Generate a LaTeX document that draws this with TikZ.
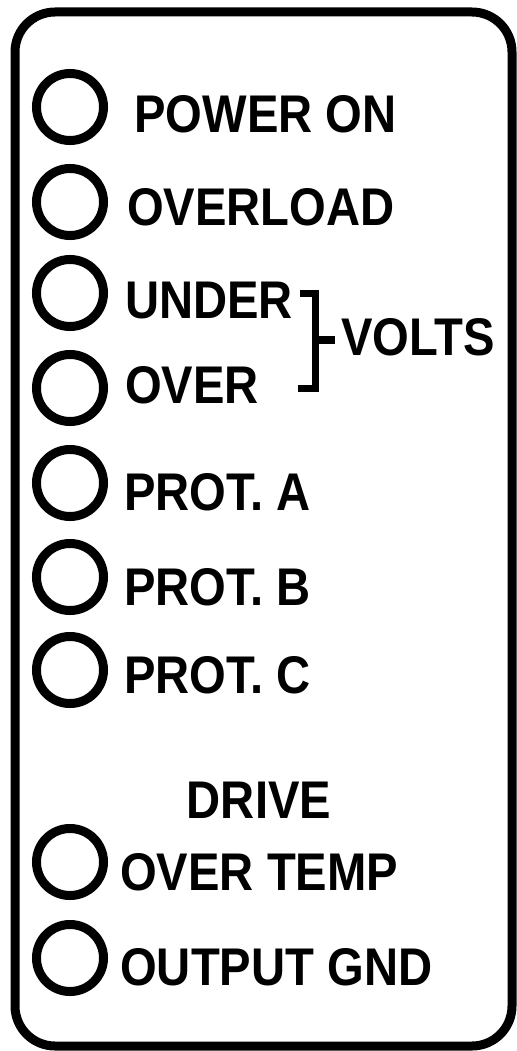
\documentclass[tikz,border=0pt]{standalone}
\usepackage{fontspec}
\newfontfamily\panelfont[FakeStretch=0.89]{Liberation Sans}
\usepackage{tikz}

\tikzset{
  lamp/.style={draw, circle, line width=6.4pt, minimum size=1.675cm, inner sep=0pt},
  legend/.style={anchor=base west, inner sep=0pt, font=\panelfont\bfseries\fontsize{37.7}{40}\selectfont}
}

\begin{document}
\begin{tikzpicture}[x=0.025cm, y=-0.025cm]
    \useasboundingbox (0,0) rectangle (516,1051);

    % Front panel
    \draw[line width=6.4pt, rounded corners=1cm] (15,12) rectangle (512,1046);

    % Lamps
    \node[lamp] (lpower) at (70,107) {};
    \node[lamp] (lload) at (70,202) {};
    \node[lamp] (lunder) at (70,293) {};
    \node[lamp] (lover) at (70,388) {};
    \node[lamp] (lprota) at (70,483) {};
    \node[lamp] (lprotb) at (70,577) {};
    \node[lamp] (lprotc) at (70,670) {};
    \node[lamp] (ltemp) at (70,862) {};
    \node[lamp] (lgnd) at (70,958) {};

    % Labels
    \node[legend] (tpower) at (134,133) {POWER ON};
    \node[legend] (tload) at (127,225) {OVERLOAD};
    \node[legend] (tunder) at (125,318) {UNDER};
    \node[legend] (tover) at (125,403) {OVER};
    \node[legend] (tvolts) at (341,355) {VOLTS};
    \node[legend] (tprota) at (124,510) {PROT. A};
    \node[legend] (tprotb) at (124,605) {PROT. B};
    \node[legend] (tprotc) at (124,693) {PROT. C};
    \node[legend, anchor=base] (tdrive) at (259,818) {DRIVE};
    \node[legend] (ttemp) at (120,890) {OVER TEMP};
    \node[legend] (tgnd) at (120,985) {OUTPUT GND};

    % Bracket for the volts pair
    \draw[line width=5pt] (300,293.5) -| (315.5,388.5) -- (298,388.5);
    \draw[line width=5pt] (315.5,340) -- (335,340);
\end{tikzpicture}
\end{document}
